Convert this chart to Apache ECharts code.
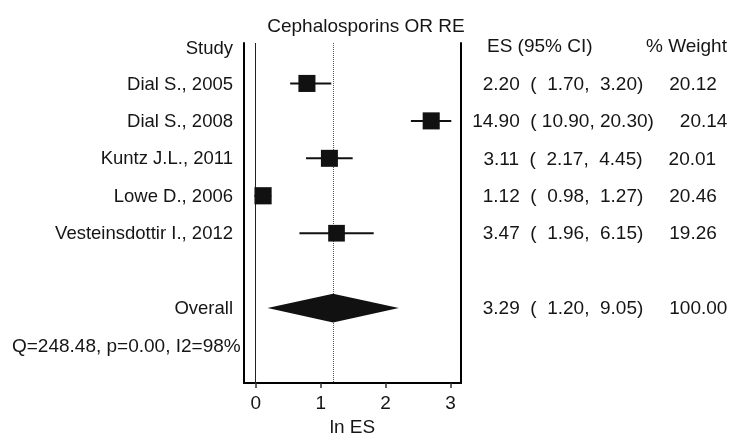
<!DOCTYPE html>
<html>
<head>
<meta charset="utf-8">
<script src="https://cdn.jsdelivr.net/npm/echarts@6/dist/echarts.min.js"></script>
<style>
  html, body { margin: 0; padding: 0; background: #fff; }
  #chart { width: 742px; height: 438px; }
</style>
</head>
<body>
<div id="chart"></div>
<script>
// Study-level estimates (odds ratios with 95% CI) and random-effects weights
const studies = ['Dial S., 2005', 'Dial S., 2008', 'Kuntz J.L., 2011', 'Lowe D., 2006', 'Vesteinsdottir I., 2012'];
const esValues = [2.20, 14.90, 3.11, 1.12, 3.47];
const ciLow = [1.70, 10.90, 2.17, 0.98, 1.96];
const ciHigh = [3.20, 20.30, 4.45, 1.27, 6.15];
const weights = [20.12, 20.14, 20.01, 20.46, 19.26];

// Pooled estimate
const overallEs = 3.29;
const overallLow = 1.20;
const overallHigh = 9.05;
const overallWeight = 100.00;
const heterogeneity = 'Q=248.48, p=0.00, I2=98%';

const chartTitle = 'Cephalosporins OR RE';
const headers = { study: 'Study', es: 'ES (95% CI)', weight: '% Weight' };
const overallLabel = 'Overall';
const xTicks = [0, 1, 2, 3];
const xName = 'ln ES';

// Row layout: 0 = header, 1..5 = studies, 7 = overall, 8 = heterogeneity
const OVERALL_ROW = studies.length + 2;
const HET_ROW = OVERALL_ROW + 1;

const FONT_FAMILY = '"Liberation Sans", Arial, Helvetica, sans-serif';
const TEXT_COLOR = '#151515';
const NUM_FONT = '19px ' + FONT_FAMILY;
const LABEL_FONT = '18.5px ' + FONT_FAMILY;

const pad = v => (v < 10 ? ' ' : '') + v.toFixed(2);
const ciText = (e, lo, hi) => e.toFixed(2) + '  ( ' + pad(lo) + ', ' + pad(hi) + ')';

const measureCtx = document.createElement('canvas').getContext('2d');
function textWidth(str, font) {
  measureCtx.font = font;
  return measureCtx.measureText(str).width;
}

// Column anchors (pixels)
const STUDY_RIGHT = 233;
const ES_CENTER = 563;
const WEIGHT_GAP = 26;
const HET_LEFT = 12;
const TEXT_DY = 1;

const rowTexts = [];
rowTexts.push({ row: 0, study: headers.study, es: headers.es, weight: headers.weight, header: true });
studies.forEach((s, i) => {
  rowTexts.push({ row: i + 1, study: s, es: ciText(esValues[i], ciLow[i], ciHigh[i]), weight: weights[i].toFixed(2) });
});
rowTexts.push({ row: OVERALL_ROW, study: overallLabel, es: ciText(overallEs, overallLow, overallHigh), weight: overallWeight.toFixed(2) });
rowTexts.push({ row: HET_ROW, het: heterogeneity });

const studyData = studies.map((s, i) => [Math.log(esValues[i]), i + 1, Math.log(ciLow[i]), Math.log(ciHigh[i]), weights[i]]);
const overallData = [[Math.log(overallEs), OVERALL_ROW, Math.log(overallLow), Math.log(overallHigh)]];

const chart = echarts.init(document.getElementById('chart'), null, { renderer: 'canvas' });

const yAxisBase = {
  type: 'value', inverse: true, min: -0.08, max: 9,
  axisLine: { show: true, onZero: false, lineStyle: { color: '#000', width: 2 } },
  axisTick: { show: false }, axisLabel: { show: false }, splitLine: { show: false }
};

function textEl(x, y, text, font, align) {
  return { type: 'text', x: x, y: y + TEXT_DY,
    style: { text: text, font: font, fill: TEXT_COLOR, align: align, verticalAlign: 'middle' } };
}

chart.setOption({
  animation: false,
  backgroundColor: '#fff',
  graphic: [{
    type: 'text', x: 366, y: 26.5,
    style: { text: chartTitle, font: NUM_FONT, fill: TEXT_COLOR, align: 'center', verticalAlign: 'middle' }
  }],
  grid: { left: 244, right: 281, top: 43, bottom: 55, containLabel: false, outerBoundsMode: 'none' },
  xAxis: {
    type: 'value', min: -0.18, max: 3.16,
    name: xName, nameLocation: 'middle', nameGap: 27,
    nameTextStyle: { fontSize: 19, color: TEXT_COLOR, fontFamily: FONT_FAMILY },
    axisLine: { show: true, onZero: false, lineStyle: { color: '#000', width: 2 } },
    axisTick: { show: true, length: 5, customValues: xTicks, lineStyle: { color: '#333', width: 1.5 } },
    axisLabel: { customValues: xTicks, fontSize: 19, color: TEXT_COLOR, fontFamily: FONT_FAMILY, margin: 11 },
    splitLine: { show: false }
  },
  yAxis: [
    Object.assign({}, yAxisBase, { position: 'left' }),
    Object.assign({}, yAxisBase, { position: 'right' })
  ],
  series: [
    {
      // pooled diamond plus the null and pooled reference lines
      type: 'custom',
      z: 3,
      data: overallData,
      encode: { x: [0, 2, 3], y: 1 },
      renderItem(params, api) {
        const y = api.value(1);
        const c = api.coord([api.value(0), y]);
        const lo = api.coord([api.value(2), y]);
        const hi = api.coord([api.value(3), y]);
        const h = 14.3;
        return {
          type: 'polygon',
          shape: { points: [[lo[0], c[1]], [c[0], c[1] - h], [hi[0], c[1]], [c[0], c[1] + h]] },
          style: { fill: '#111' }
        };
      },
      markLine: {
        silent: true, symbol: 'none', label: { show: false }, z: 1,
        data: [
          { xAxis: 0, lineStyle: { color: '#222', width: 1, type: 'solid' } },
          { xAxis: Math.log(overallEs), lineStyle: { color: '#555', width: 1, type: [1, 1] } }
        ]
      }
    },
    {
      // study CIs and weight-scaled squares
      type: 'custom',
      z: 4,
      data: studyData,
      encode: { x: [0, 2, 3], y: 1 },
      renderItem(params, api) {
        const y = api.value(1);
        const c = api.coord([api.value(0), y]);
        const lo = api.coord([api.value(2), y]);
        const hi = api.coord([api.value(3), y]);
        const side = 17 * Math.sqrt(api.value(4) / 20);
        return {
          type: 'group',
          children: [
            { type: 'line', shape: { x1: lo[0], y1: c[1], x2: hi[0], y2: c[1] }, style: { stroke: '#111', lineWidth: 2 } },
            { type: 'rect', shape: { x: c[0] - side / 2, y: c[1] - side / 2, width: side, height: side }, style: { fill: '#111' } }
          ]
        };
      }
    },
    {
      // text columns
      type: 'custom',
      z: 5,
      silent: true,
      data: rowTexts.map(r => [0, r.row]),
      encode: { x: 0, y: 1 },
      renderItem(params, api) {
        const r = rowTexts[params.dataIndex];
        const y = api.coord([0, api.value(1)])[1];
        const children = [];
        if (r.het) {
          children.push(textEl(HET_LEFT, y, r.het, NUM_FONT, 'left'));
        } else {
          children.push(textEl(STUDY_RIGHT, y + (r.header ? 2 : 0), r.study, LABEL_FONT, 'right'));
          if (r.header) {
            children.push(textEl(487, y, r.es, NUM_FONT, 'left'));
            children.push(textEl(646, y, r.weight, NUM_FONT, 'left'));
          } else {
            const w = textWidth(r.es, NUM_FONT);
            children.push(textEl(ES_CENTER, y, r.es, NUM_FONT, 'center'));
            children.push(textEl(ES_CENTER + w / 2 + WEIGHT_GAP, y, r.weight, NUM_FONT, 'left'));
          }
        }
        return { type: 'group', children };
      }
    }
  ]
});
</script>
</body>
</html>
